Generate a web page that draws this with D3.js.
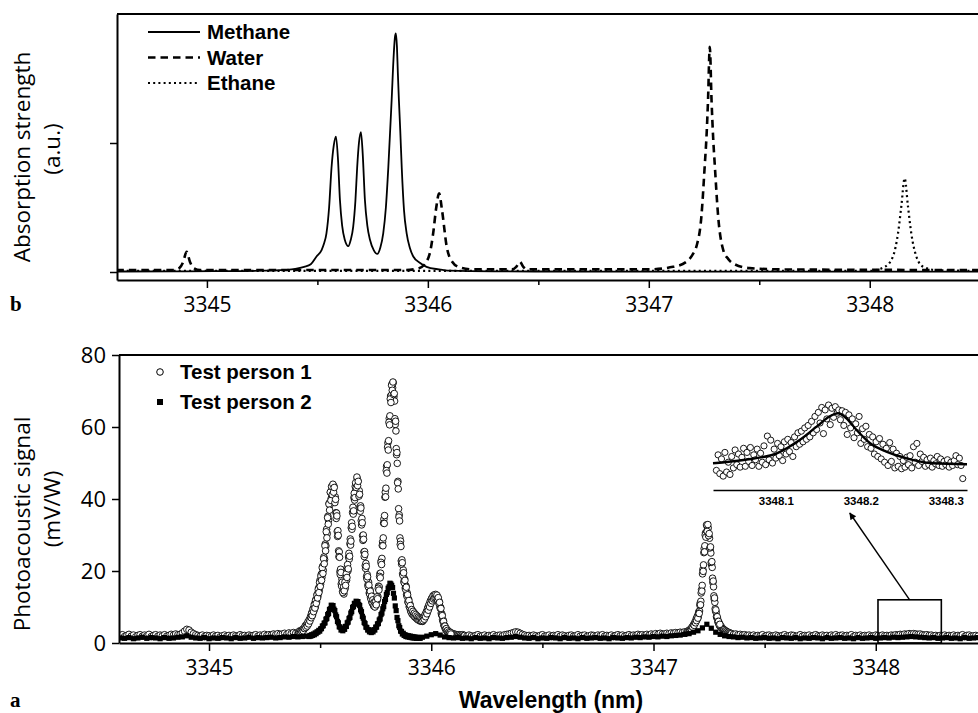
<!DOCTYPE html>
<html>
<head>
<meta charset="utf-8">
<script src="https://cdn.jsdelivr.net/npm/d3@7"></script>
<style>
  body { margin: 0; background: #fff; }
  svg { display: block; }
</style>
</head>
<body>
<div id="container"></div>
<script>
// ---------- panel b: absorption spectra (wavelength, strength a.u.) ----------
const methaneWl = [3344.59, 3344.9, 3345.1, 3345.25, 3345.35, 3345.40, 3345.44, 3345.47, 3345.496, 3345.519,
  3345.530, 3345.541, 3345.553, 3345.564, 3345.574, 3345.584, 3345.593, 3345.602, 3345.612, 3345.624,
  3345.640, 3345.651, 3345.662, 3345.672, 3345.680, 3345.688, 3345.697, 3345.705, 3345.715, 3345.726,
  3345.738, 3345.755, 3345.771, 3345.785, 3345.798, 3345.810, 3345.821, 3345.836, 3345.846, 3345.851,
  3345.855, 3345.860, 3345.864, 3345.869, 3345.875, 3345.882, 3345.892, 3345.904, 3345.918, 3345.934,
  3345.965, 3345.994, 3346.05, 3346.10, 3346.3, 3346.8, 3347.5, 3348.49];
const methaneVal = [0.004, 0.005, 0.007, 0.010, 0.016, 0.024, 0.04, 0.06, 0.12, 0.17,
  0.22, 0.30, 0.50, 0.81, 0.98, 1.05, 0.88, 0.56, 0.36, 0.25,
  0.20, 0.25, 0.35, 0.55, 0.81, 1.00, 1.085, 0.92, 0.56, 0.36,
  0.25, 0.17, 0.14, 0.19, 0.30, 0.50, 0.81, 1.33, 1.70, 1.82,
  1.85, 1.75, 1.55, 1.33, 1.10, 0.80, 0.48, 0.30, 0.19, 0.12,
  0.07, 0.04, 0.02, 0.01, 0.005, 0.003, 0.003, 0.003];

const waterWl = [3344.59, 3344.85, 3344.875, 3344.893, 3344.908, 3344.923, 3344.94, 3344.97, 3345.9, 3345.96,
  3345.994, 3346.012, 3346.024, 3346.038, 3346.051, 3346.064, 3346.085, 3346.11, 3346.145, 3346.2,
  3346.38, 3346.40, 3346.416, 3346.432, 3346.45, 3347.0, 3347.11, 3347.171, 3347.200, 3347.216,
  3347.238, 3347.253, 3347.262, 3347.268, 3347.276, 3347.284, 3347.291, 3347.299, 3347.314, 3347.337,
  3347.360, 3347.389, 3347.457, 3347.6, 3348.49];
const waterVal = [0.015, 0.015, 0.03, 0.08, 0.157, 0.08, 0.03, 0.015, 0.015, 0.03,
  0.08, 0.17, 0.30, 0.50, 0.61, 0.48, 0.20, 0.08, 0.035, 0.02,
  0.02, 0.04, 0.08, 0.04, 0.02, 0.02, 0.04, 0.08, 0.14, 0.20,
  0.43, 0.82, 1.08, 1.33, 1.745, 1.33, 1.05, 0.82, 0.43, 0.17,
  0.10, 0.06, 0.03, 0.02, 0.015];

const ethaneWl = [3344.59, 3348.0, 3348.068, 3348.105, 3348.128, 3348.143, 3348.158, 3348.173, 3348.188, 3348.211,
  3348.242, 3348.30, 3348.49];
const ethaneVal = [0.008, 0.008, 0.04, 0.12, 0.30, 0.51, 0.726, 0.51, 0.30, 0.12,
  0.04, 0.015, 0.008];

const gasNames = ["Methane", "Water", "Ethane"];

// ---------- panel a: photoacoustic signal (mV/W), sampled scans ----------
// test person 1
const p1Base1Start = 3344.60, p1Base1Step = 0.01;
const p1Base1Vals = [2.0, 2.3, 1.8, 2.1, 2.4, 1.9, 2.2, 1.7, 2.1, 2.3,
  1.9, 2.2, 2.0, 2.4, 1.8, 2.1, 2.3, 1.9, 2.2, 2.0,
  2.3, 1.9, 2.1, 2.4, 2.2, 2.5, 2.3, 2.4, 2.8, 3.3,
  3.8, 3.6, 3.0, 2.6, 2.3, 2.1, 1.9, 2.2, 1.8, 2.1,
  2.0, 1.8, 2.2, 1.9, 2.1, 1.7, 2.0, 2.2, 1.9, 2.1,
  1.8, 2.2, 2.0, 1.9, 2.3, 2.0, 2.1, 1.8, 2.2, 2.0,
  2.1, 2.3, 1.9, 2.2, 2.0, 2.4, 2.1, 2.3, 2.2, 2.5,
  2.3, 2.6, 2.4, 2.5, 2.7, 2.4, 2.8, 2.6, 2.9, 2.7];

const p1PeaksStart = 3345.400, p1PeaksStep = 0.003;
const p1PeaksVals = [2.6, 3.1, 2.9, 3.4, 3.0, 3.5, 3.2, 3.8, 3.4, 4.1,
  4.0, 4.8, 4.3, 5.2, 4.7, 5.9, 5.3, 6.5, 6.1, 7.4,
  7.0, 8.5, 7.8, 9.6, 9.0, 10.9, 10.0, 12.1, 11.4, 13.6,
  13.0, 15.3, 14.6, 17.4, 16.3, 19.1, 18.2, 21.3, 20.2, 23.9,
  23.2, 27.5, 27.0, 31.6, 30.4, 35.2, 34.1, 38.9, 38.3, 41.8,
  40.2, 43.1, 41.8, 43.0, 43.6, 40.1, 40.6, 36.2, 36.1, 31.0,
  31.2, 25.6, 25.3, 19.8, 20.5, 16.4, 17.7, 14.3, 15.9, 13.6,
  16.8, 15.2, 18.6, 17.4, 21.1, 20.0, 23.9, 23.3, 27.6, 27.2,
  32.0, 31.6, 36.3, 35.8, 40.4, 39.7, 43.5, 42.6, 44.2, 45.6,
  45.0, 42.1, 42.3, 37.8, 38.1, 34.0, 34.6, 29.8, 30.0, 25.3,
  25.4, 21.5, 22.1, 18.4, 19.0, 16.1, 16.9, 13.9, 14.8, 12.6,
  13.3, 11.4, 12.2, 10.6, 11.6, 10.1, 11.2, 10.4, 12.3, 11.9,
  12.9, 15.8, 15.6, 19.3, 19.4, 22.9, 23.5, 28.1, 29.2, 34.4,
  35.4, 41.9, 43.0, 49.1, 49.5, 55.6, 56.2, 62.4, 63.1, 68.6,
  68.8, 71.9, 70.9, 72.3, 68.4, 67.2, 60.7, 58.9, 52.3, 49.9,
  44.9, 37.3, 35.6, 29.2, 28.3, 22.8, 23.1, 19.2, 20.3, 17.1,
  17.8, 15.3, 15.9, 13.4, 13.9, 11.5, 12.2, 10.1, 10.8, 9.0,
  9.5, 8.2, 8.9, 7.8, 8.5, 7.3, 8.0, 7.0, 7.6, 6.6,
  7.3, 6.4, 7.0, 6.1, 6.8, 6.2, 6.9, 6.0, 7.0, 6.5,
  7.0, 7.9, 7.6, 8.8, 8.5, 9.9, 9.4, 10.8, 10.5, 11.7,
  11.3, 12.4, 11.9, 13.0, 12.5, 13.3, 12.6, 13.2, 12.5, 12.9,
  12.6, 11.4, 11.5, 10.1, 9.9, 8.3, 8.0, 6.5, 6.3, 5.0,
  4.9, 4.0, 4.1, 3.4, 3.6, 3.0, 3.3, 2.7, 3.0, 2.5,
  2.8, 2.4, 2.6, 2.2, 2.5, 2.1, 2.4, 2.0, 2.3, 2.1,
  2.2, 1.9, 2.3, 2.0, 2.2, 1.8, 2.1, 2.3, 1.9, 2.1];

// second scan over the methane / water peaks
const p1Scan2Start = 3345.4615, p1Scan2Step = 0.003;
const p1Scan2Vals = [8.2, 7.6, 9.3, 8.7, 10.6, 9.7, 11.8, 11.0, 13.3, 12.5,
  14.9, 14.0, 16.8, 15.7, 18.6, 17.4, 20.9, 19.3, 23.4, 22.0,
  27.0, 25.6, 30.9, 29.2, 34.8, 33.0, 38.6, 36.9, 41.9, 39.6,
  43.5, 41.2, 44.1, 41.9, 43.2, 39.0, 39.9, 34.6, 35.3, 29.6,
  29.9, 24.0, 23.8, 19.0, 19.6, 15.8, 16.9, 14.0, 15.6, 14.5,
  16.9, 16.0, 19.2, 18.2, 21.8, 20.6, 24.9, 24.1, 28.9, 28.3,
  33.4, 32.4, 37.7, 36.7, 41.6, 40.4, 44.5, 43.2, 46.1, 43.7,
  44.9, 40.8, 41.3, 36.6, 37.5, 32.8, 33.4, 28.5, 28.8, 24.0,
  24.6, 20.7, 21.3, 17.8, 18.4, 15.6, 16.1, 13.6, 14.4, 12.2,
  13.0, 11.1, 12.0, 10.3, 11.4, 10.0, 11.5, 10.6, 12.8, 12.3,
  15.2, 14.7, 18.5, 18.1, 22.4, 21.8, 27.1, 27.0, 33.3, 33.2,
  40.5, 40.6, 47.9, 47.2, 54.4, 53.6, 61.3, 60.6, 67.8, 66.8,
  71.6, 70.2, 72.5, 69.0, 69.3, 62.3, 61.6, 54.0, 52.9, 44.5,
  42.8, 35.0, 33.9, 27.4, 26.8, 21.9, 22.3, 18.8, 19.5, 16.7,
  17.4, 14.9, 15.5, 13.0, 13.4, 11.2, 11.8, 9.9, 10.4, 8.7,
  9.3, 8.0, 8.8, 7.7, 8.3, 7.2, 7.9, 6.9, 7.5, 6.6,
  7.2, 6.3, 7.0, 6.2, 6.9, 6.1, 6.8, 6.2, 7.1, 6.6,
  7.8, 7.3, 8.6, 8.1, 9.6, 9.1, 10.6, 10.0, 11.6, 11.0,
  12.4, 11.7, 13.1, 12.2, 13.4, 12.4, 13.5, 12.4, 13.3, 12.0,
  12.6, 11.0, 11.3, 9.6, 9.6, 7.8, 7.6, 6.0, 6.0, 4.7,
  4.7, 3.8, 4.0, 3.3, 3.5, 2.9, 3.1, 2.7, 2.9, 2.5];

const p1Base2Start = 3346.15, p1Base2Step = 0.01;
const p1Base2Vals = [2.1, 1.9, 2.2, 2.0, 1.8, 2.1, 2.3, 1.9, 2.0, 2.2,
  1.8, 2.1, 2.0, 2.3, 1.9, 2.1, 2.2, 2.0, 2.3, 2.4,
  2.5, 2.7, 2.9, 3.1, 3.0, 2.7, 2.4, 2.2, 2.0, 2.1,
  1.9, 2.2, 2.0, 1.8, 2.1, 2.3, 1.9, 2.0, 2.2, 1.8,
  2.1, 2.0, 2.3, 1.9, 2.2, 2.0, 1.8, 2.1, 2.2, 1.9,
  2.0, 2.3, 1.9, 2.1, 2.2, 1.8, 2.0, 2.2, 2.1, 1.9,
  2.2, 2.0, 2.3, 1.9, 2.1, 2.0, 2.2, 1.8, 2.1, 2.3,
  2.0, 2.2, 1.9, 2.1, 2.3, 2.0, 2.2, 2.1, 2.4, 2.2,
  2.3, 2.1, 2.4, 2.2, 2.5, 2.3, 2.6, 2.4, 2.7, 2.5,
  2.5, 2.7, 2.6, 2.8, 2.7, 2.9, 2.8, 3.0, 2.9, 3.1];

const p1Peak4Start = 3347.150, p1Peak4Step = 0.003;
const p1Peak4Vals = [3.2, 2.9, 3.4, 3.1, 3.6, 3.4, 4.0, 3.8, 4.5, 4.3,
  5.1, 4.9, 5.8, 5.6, 6.7, 6.4, 7.5, 7.2, 8.7, 8.9,
  11.1, 11.6, 14.8, 16.0, 20.4, 21.7, 26.2, 27.0, 30.6, 30.5,
  32.6, 31.6, 32.0, 29.5, 29.1, 25.8, 25.0, 21.8, 21.0, 16.8,
  15.6, 12.2, 11.3, 8.9, 8.5, 7.0, 6.9, 5.7, 5.8, 4.8,
  5.0, 4.3, 4.5, 3.9, 4.0, 3.6, 3.7, 3.3, 3.4, 3.0,
  3.2, 2.8, 3.0, 2.7, 2.8, 2.5, 2.7];

const p1Peak4bStart = 3347.1935, p1Peak4bStep = 0.003;
const p1Peak4bVals = [6.2, 7.3, 6.9, 8.3, 8.2, 10.5, 10.6, 13.9, 14.4, 19.2,
  19.9, 25.1, 25.3, 30.0, 29.4, 32.8, 31.0, 32.9, 29.8, 30.4,
  26.4, 26.7, 22.4, 22.6, 18.0, 17.2, 13.1, 12.5, 9.5, 9.2,
  7.3, 7.3, 6.0, 6.0, 5.0, 5.2];

const p1Base3Start = 3347.35, p1Base3Step = 0.01;
const p1Base3Vals = [2.6, 2.4, 2.5, 2.3, 2.4, 2.2, 2.3, 2.1, 2.2, 2.0,
  2.2, 1.9, 2.1, 2.0, 2.3, 1.8, 2.1, 2.2, 1.9, 2.0,
  2.2, 2.0, 1.8, 2.1, 2.3, 1.9, 2.0, 2.2, 2.1, 1.8,
  2.0, 2.3, 1.9, 2.1, 2.0, 2.2, 1.8, 2.1, 2.3, 2.0,
  1.9, 2.2, 2.0, 2.1, 1.8, 2.2, 2.0, 2.3, 1.9, 2.1,
  2.2, 1.9, 2.1, 2.0, 2.3, 1.8, 2.1, 2.0, 2.2, 1.9,
  2.1, 2.0, 2.2, 1.9, 2.0, 2.2, 2.1, 1.9, 2.2, 2.0,
  2.1, 2.0, 2.2, 2.1, 2.3, 2.2, 2.4, 2.3, 2.5, 2.4,
  2.6, 2.5, 2.6, 2.5, 2.4, 2.5, 2.3, 2.2, 2.3, 2.1,
  2.2, 2.0, 2.1, 1.9, 2.1, 2.0, 2.2, 1.9, 2.1, 2.0,
  2.2, 1.9, 2.1, 2.0, 2.3, 1.8, 2.1, 2.2, 1.9, 2.0, 2.1, 1.9];

// test person 2
const p2Base1Start = 3344.60, p2Base1Step = 0.02;
const p2Base1Vals = [1.4, 1.3, 1.5, 1.2, 1.4, 1.6, 1.3, 1.5, 1.4, 1.2,
  1.5, 1.3, 1.4, 1.6, 1.7, 2.0, 1.6, 1.4, 1.3, 1.5,
  1.2, 1.4, 1.3, 1.5, 1.4, 1.2, 1.5, 1.3, 1.4, 1.6,
  1.3, 1.5, 1.4, 1.5, 1.6, 1.4, 1.5, 1.7, 1.6, 1.8,
  1.7, 1.8, 1.9];

const p2PeaksStart = 3345.450, p2PeaksStep = 0.004;
const p2PeaksVals = [1.8, 2.1, 1.9, 2.3, 2.1, 2.5, 2.3, 2.8, 2.6, 3.1,
  3.0, 3.5, 3.3, 3.9, 4.0, 4.7, 4.8, 5.5, 5.6, 6.6,
  6.8, 7.9, 8.2, 9.3, 9.5, 10.5, 10.3, 10.4, 9.4, 9.0,
  7.8, 7.3, 6.0, 5.6, 4.5, 4.4, 3.6, 3.8, 3.4, 4.0,
  3.8, 4.6, 4.6, 5.6, 5.8, 6.8, 7.1, 8.3, 8.7, 9.9,
  10.1, 11.0, 11.0, 11.6, 11.3, 11.5, 10.7, 10.4, 9.2, 8.7,
  7.4, 6.9, 5.7, 5.4, 4.4, 4.3, 3.6, 3.7, 3.1, 3.4,
  2.9, 3.3, 3.1, 3.7, 3.6, 4.4, 4.4, 5.3, 5.4, 6.4,
  6.7, 7.9, 8.3, 9.5, 10.1, 11.5, 12.1, 13.5, 14.0, 15.2,
  15.6, 16.6, 16.4, 16.0, 15.4, 13.8, 12.5, 10.3, 9.0, 7.1,
  6.2, 4.8, 4.3, 3.3, 3.2, 2.5, 2.7, 2.1, 2.3, 1.8,
  2.1, 1.7, 2.0, 1.6, 1.9, 1.5, 1.8, 1.4, 1.7, 1.4,
  1.6, 1.3, 1.6, 1.4, 1.5, 1.3];

const p2Base2Start = 3345.96, p2Base2Step = 0.02;
const p2Base2Vals = [1.6, 1.9, 2.3, 2.6, 2.2, 1.7, 1.5, 1.4, 1.5, 1.3,
  1.4, 1.2, 1.5, 1.3, 1.4, 1.2, 1.5, 1.4, 1.3, 1.5,
  1.6, 1.8, 1.6, 1.4, 1.3, 1.5, 1.2, 1.4, 1.3, 1.5,
  1.4, 1.2, 1.5, 1.3, 1.4, 1.2, 1.5, 1.3, 1.4, 1.5,
  1.3, 1.4, 1.2, 1.5, 1.4, 1.3, 1.5, 1.4, 1.6, 1.5,
  1.7, 1.6, 1.8, 1.7, 1.9, 1.8, 2.0, 2.1, 2.2, 2.4,
  2.6, 3.0, 3.4, 4.2, 5.2, 4.1, 3.0, 2.4, 2.0, 1.8,
  1.7, 1.5, 1.6, 1.4, 1.5, 1.3, 1.4, 1.5, 1.3, 1.4,
  1.2, 1.5, 1.4, 1.3, 1.5, 1.2, 1.4, 1.3, 1.5, 1.4,
  1.2, 1.5, 1.3, 1.4, 1.5, 1.3, 1.4, 1.2, 1.5, 1.3,
  1.4, 1.5, 1.3, 1.4, 1.5, 1.4, 1.6, 1.5, 1.6, 1.7,
  1.8, 1.7, 1.6, 1.5, 1.4, 1.5, 1.3, 1.4, 1.5, 1.3,
  1.4, 1.2, 1.5, 1.3, 1.4, 1.5];

const personNames = ["Test person 1", "Test person 2"];

// ---------- inset: ethane line, test person 1 ----------
const insetStart = 3348.030, insetStep = 0.002;
const insetVals = [1.92, 2.11, 1.88, 2.06, 1.85, 2.14, 1.90, 2.02, 1.87, 2.09,
  1.95, 2.17, 1.99, 2.12, 1.96, 2.08, 2.19, 1.97, 2.14, 2.03,
  2.20, 1.98, 2.11, 2.05, 2.18, 1.97, 2.13, 2.02, 2.22, 1.99,
  2.34, 2.05, 2.29, 2.01, 2.18, 2.07, 2.25, 2.10, 2.21, 2.04,
  2.27, 2.12, 2.30, 2.15, 2.26, 2.09, 2.33, 2.21, 2.38, 2.24,
  2.40, 2.27, 2.44, 2.30, 2.47, 2.33, 2.52, 2.38, 2.58, 2.42,
  2.63, 2.50, 2.69, 2.37, 2.66, 2.55, 2.72, 2.48, 2.68, 2.57,
  2.70, 2.62, 2.66, 2.54, 2.65, 2.47, 2.63, 2.36, 2.60, 2.44,
  2.55, 2.32, 2.49, 2.38, 2.58, 2.25, 2.43, 2.30, 2.46, 2.21,
  2.36, 2.19, 2.33, 2.12, 2.27, 2.09, 2.31, 2.06, 2.24, 2.02,
  2.19, 1.98, 2.26, 2.03, 2.18, 1.95, 2.13, 1.97, 2.09, 1.94,
  2.04, 1.96, 2.08, 1.99, 2.10, 1.95, 2.21, 2.02, 2.25, 1.98,
  2.12, 2.03, 2.08, 1.97, 2.05, 1.99, 2.07, 1.96, 2.04, 2.00,
  2.09, 1.98, 2.06, 1.97, 2.03, 1.99, 2.05, 1.96, 2.02, 1.98,
  2.04, 2.10, 1.99, 2.07, 1.98, 1.82];
const insetFitWl = [3348.026, 3348.062, 3348.101, 3348.128, 3348.148, 3348.164, 3348.173, 3348.183, 3348.195, 3348.211,
  3348.230, 3348.254, 3348.285, 3348.325];
const insetFitVal = [2.007, 2.047, 2.129, 2.292, 2.455, 2.586, 2.619, 2.558, 2.414, 2.252,
  2.149, 2.068, 2.007, 1.995];
const insetTicks = [3348.1, 3348.2, 3348.3];
const zoomBox = [3348.01, 3348.295, 12];   // wavelength from, to, signal top

const xTicks = [3345, 3346, 3347, 3348];
const xMinor = [3345.5, 3346.5, 3347.5];
const yTicksA = [0, 20, 40, 60, 80];
const yTicksB = [0, 1];

// ---------- helpers ----------
const seg = (start, step, vals) => vals.map((v, i) => [start + i * step, v]);
const person1 = [].concat(
  seg(p1Base1Start, p1Base1Step, p1Base1Vals),
  seg(p1PeaksStart, p1PeaksStep, p1PeaksVals),
  seg(p1Scan2Start, p1Scan2Step, p1Scan2Vals),
  seg(p1Base2Start, p1Base2Step, p1Base2Vals),
  seg(p1Peak4Start, p1Peak4Step, p1Peak4Vals),
  seg(p1Peak4bStart, p1Peak4bStep, p1Peak4bVals),
  seg(p1Base3Start, p1Base3Step, p1Base3Vals));
const person2 = [].concat(
  seg(p2Base1Start, p2Base1Step, p2Base1Vals),
  seg(p2PeaksStart, p2PeaksStep, p2PeaksVals),
  seg(p2Base2Start, p2Base2Step, p2Base2Vals));
const insetPts = seg(insetStart, insetStep, insetVals);

const W = 978, H = 713;
const tickFont = "'Open Sans', 'Noto Sans', sans-serif";
const boldFont = "'Liberation Sans', Arial, sans-serif";

const svg = d3.select("#container").append("svg")
    .attr("width", W).attr("height", H)
    .attr("viewBox", [0, 0, W, H]);

const defs = svg.append("defs");

// ===================== panel b =====================
const xB = d3.scaleLinear().domain([3344.593, 3348.49]).range([117, 978]);
const yB = d3.scaleLinear().domain([-0.062, 2.0]).range([280, 14]);

defs.append("clipPath").attr("id", "clipB")
  .append("rect").attr("x", 118).attr("y", 14).attr("width", W - 118).attr("height", 265);

const lineB = d3.line().x(d => xB(d[0])).y(d => yB(d[1])).curve(d3.curveMonotoneX);

const gB = svg.append("g");
const curves = gB.append("g").attr("clip-path", "url(#clipB)").attr("fill", "none").attr("stroke", "#000");
curves.append("path").datum(d3.zip(ethaneWl, ethaneVal))
    .attr("d", lineB).attr("stroke-width", 2.2).attr("stroke-dasharray", "2,3.2");
curves.append("path").datum(d3.zip(waterWl, waterVal))
    .attr("d", lineB).attr("stroke-width", 2.6).attr("stroke-dasharray", "7.5,5");
curves.append("path").datum(d3.zip(methaneWl, methaneVal))
    .attr("d", lineB).attr("stroke-width", 1.8);

// frame top line
gB.append("line").attr("x1", 117).attr("x2", W).attr("y1", 14).attr("y2", 14)
    .attr("stroke", "#000").attr("stroke-width", 2);

gB.append("g").attr("transform", "translate(0,280)")
    .call(d3.axisBottom(xB).tickValues(xTicks).tickFormat(d3.format("d")).tickSize(8).tickSizeOuter(0).tickPadding(9))
    .call(g => g.select(".domain").attr("stroke-width", 2))
    .call(g => g.selectAll(".tick line").attr("stroke-width", 1.5))
    .call(g => g.selectAll("text").attr("font-family", tickFont).attr("font-size", 21).attr("fill", "#000"));
gB.append("g").attr("transform", "translate(0,280)")
    .call(d3.axisBottom(xB).tickValues(xMinor).tickFormat("").tickSize(5).tickSizeOuter(0))
    .call(g => g.select(".domain").remove())
    .call(g => g.selectAll(".tick line").attr("stroke-width", 1.5));

gB.append("g").attr("transform", "translate(117,0)")
    .call(d3.axisLeft(yB).tickValues(yTicksB).tickFormat("").tickSize(7).tickSizeOuter(0))
    .call(g => g.select(".domain").attr("stroke-width", 2))
    .call(g => g.selectAll(".tick line").attr("stroke-width", 1.5));

// legend b
const legB = gB.append("g");
const legStyles = [{ dash: null, w: 1.8 }, { dash: "7.5,5", w: 2.6 }, { dash: "2,3.2", w: 2.2 }];
gasNames.forEach((name, i) => {
  const y = 32 + i * 25.5;
  legB.append("line").attr("x1", 148).attr("x2", 200).attr("y1", y).attr("y2", y)
      .attr("stroke", "#000").attr("stroke-width", legStyles[i].w)
      .attr("stroke-dasharray", legStyles[i].dash);
  legB.append("text").attr("x", 207).attr("y", y).attr("dy", "0.36em")
      .attr("font-family", boldFont).attr("font-weight", "bold").attr("font-size", 20.5)
      .text(name);
});

// y title b
const titleB = gB.append("g").attr("font-family", tickFont).attr("font-size", 22.5).attr("text-anchor", "middle");
titleB.append("text").attr("transform", "translate(22,157) rotate(-90)").attr("dy", "0.35em").text("Absorption strength");
titleB.append("text").attr("transform", "translate(52,149) rotate(-90)").attr("dy", "0.35em").text("(a.u.)");

svg.append("text").attr("x", 10).attr("y", 311)
    .attr("font-family", "'Liberation Serif', serif").attr("font-weight", "bold").attr("font-size", 21).text("b");

// ===================== panel a =====================
const xA = d3.scaleLinear().domain([3344.595, 3348.46]).range([119, 978]);
const yA = d3.scaleLinear().domain([0, 80]).range([643, 355]);

defs.append("clipPath").attr("id", "clipA")
  .append("rect").attr("x", 120).attr("y", 355).attr("width", W - 120).attr("height", 287);

const gA = svg.append("g");
const pts = gA.append("g").attr("clip-path", "url(#clipA)");

pts.append("g").attr("fill", "#fff").attr("stroke", "#000").attr("stroke-width", 0.9)
  .selectAll("circle").data(person1).join("circle")
    .attr("cx", d => xA(d[0])).attr("cy", d => yA(d[1])).attr("r", 3.3);

pts.append("g").attr("fill", "#000")
  .selectAll("rect").data(person2).join("rect")
    .attr("x", d => xA(d[0]) - 2.6).attr("y", d => yA(d[1]) - 2.6)
    .attr("width", 5.2).attr("height", 5.2);

// zoom box
gA.append("rect")
    .attr("x", xA(zoomBox[0])).attr("y", yA(zoomBox[2]))
    .attr("width", xA(zoomBox[1]) - xA(zoomBox[0])).attr("height", yA(0) - yA(zoomBox[2]))
    .attr("fill", "none").attr("stroke", "#000").attr("stroke-width", 1.6);

// frame top line
gA.append("line").attr("x1", 119).attr("x2", W).attr("y1", 355).attr("y2", 355)
    .attr("stroke", "#000").attr("stroke-width", 2);

gA.append("g").attr("transform", "translate(0,643)")
    .call(d3.axisBottom(xA).tickValues(xTicks).tickFormat(d3.format("d")).tickSize(8).tickSizeOuter(0).tickPadding(9))
    .call(g => g.select(".domain").attr("stroke-width", 2))
    .call(g => g.selectAll(".tick line").attr("stroke-width", 1.5))
    .call(g => g.selectAll("text").attr("font-family", tickFont).attr("font-size", 21).attr("fill", "#000"));
gA.append("g").attr("transform", "translate(0,643)")
    .call(d3.axisBottom(xA).tickValues(xMinor).tickFormat("").tickSize(5).tickSizeOuter(0))
    .call(g => g.select(".domain").remove())
    .call(g => g.selectAll(".tick line").attr("stroke-width", 1.5));

gA.append("g").attr("transform", "translate(119,0)")
    .call(d3.axisLeft(yA).tickValues(yTicksA).tickSize(7).tickSizeOuter(0).tickPadding(6))
    .call(g => g.select(".domain").attr("stroke-width", 2))
    .call(g => g.selectAll(".tick line").attr("stroke-width", 1.5))
    .call(g => g.selectAll("text").attr("font-family", tickFont).attr("font-size", 22).attr("fill", "#000"));

// legend a
const legA = gA.append("g").attr("font-family", boldFont).attr("font-weight", "bold").attr("font-size", 20.5);
legA.append("circle").attr("cx", 160).attr("cy", 372).attr("r", 3.3)
    .attr("fill", "#fff").attr("stroke", "#000").attr("stroke-width", 1);
legA.append("rect").attr("x", 157).attr("y", 399).attr("width", 6).attr("height", 6).attr("fill", "#000");
legA.append("text").attr("x", 180).attr("y", 372).attr("dy", "0.36em").text(personNames[0]);
legA.append("text").attr("x", 180).attr("y", 402).attr("dy", "0.36em").text(personNames[1]);

// axis titles a
const titleA = gA.append("g").attr("font-family", tickFont).attr("font-size", 22.5).attr("text-anchor", "middle");
titleA.append("text").attr("transform", "translate(22,524) rotate(-90)").attr("dy", "0.35em").text("Photoacoustic signal");
titleA.append("text").attr("transform", "translate(52,509) rotate(-90)").attr("dy", "0.35em").text("(mV/W)");

gA.append("text").attr("x", 551).attr("y", 708).attr("text-anchor", "middle")
    .attr("font-family", boldFont).attr("font-weight", "bold").attr("font-size", 23)
    .text("Wavelength (nm)");

svg.append("text").attr("x", 10).attr("y", 707)
    .attr("font-family", "'Liberation Serif', serif").attr("font-weight", "bold").attr("font-size", 21).text("a");

// ===================== inset =====================
const xI = d3.scaleLinear().domain([3348.026, 3348.325]).range([713, 967]);
const yI = d3.scaleLinear().domain([1.68, 2.85]).range([490, 394.4]);

defs.append("clipPath").attr("id", "clipI")
  .append("rect").attr("x", 708).attr("y", 390).attr("width", 262).attr("height", 99);

const gI = svg.append("g");
gI.append("g").attr("clip-path", "url(#clipI)")
    .attr("fill", "#fff").attr("stroke", "#000").attr("stroke-width", 0.9)
  .selectAll("circle").data(insetPts).join("circle")
    .attr("cx", d => xI(d[0])).attr("cy", d => yI(d[1])).attr("r", 3.1);

gI.append("path").datum(d3.zip(insetFitWl, insetFitVal))
    .attr("d", d3.line().x(d => xI(d[0])).y(d => yI(d[1])).curve(d3.curveMonotoneX))
    .attr("fill", "none").attr("stroke", "#000").attr("stroke-width", 2.4);

gI.append("g").attr("transform", "translate(0,490)")
    .call(d3.axisBottom(xI).tickValues(insetTicks).tickFormat(d3.format(".1f")).tickSize(0).tickSizeOuter(0).tickPadding(7))
    .call(g => g.select(".domain").attr("stroke-width", 1.6))
    .call(g => g.selectAll("text").attr("font-family", boldFont).attr("font-weight", "bold")
        .attr("font-size", 11.5).attr("fill", "#000"));

// arrow from box to inset
defs.append("marker").attr("id", "arrowHead")
    .attr("viewBox", "0 0 10 10").attr("refX", 9).attr("refY", 5)
    .attr("markerWidth", 10).attr("markerHeight", 7).attr("markerUnits", "userSpaceOnUse")
    .attr("orient", "auto")
  .append("path").attr("d", "M0,0L10,5L0,10z").attr("fill", "#000");

const boxMid = (zoomBox[0] + zoomBox[1]) / 2;
gI.append("line")
    .attr("x1", xA(boxMid)).attr("y1", yA(zoomBox[2]))
    .attr("x2", xI(3348.187)).attr("y2", 513)
    .attr("stroke", "#000").attr("stroke-width", 1.4)
    .attr("marker-end", "url(#arrowHead)");
</script>
</body>
</html>
